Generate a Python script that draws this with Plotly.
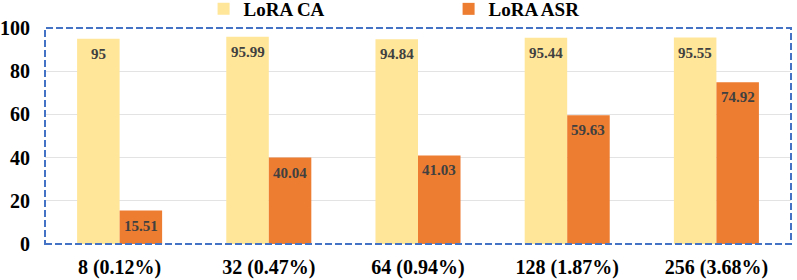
import plotly.graph_objects as go

categories = ["8 (0.12%)", "32 (0.47%)", "64 (0.94%)", "128 (1.87%)", "256 (3.68%)"]
ca_values = [95, 95.99, 94.84, 95.44, 95.55]
asr_values = [15.51, 40.04, 41.03, 59.63, 74.92]
series_names = ["LoRA CA", "LoRA ASR"]
y_ticks = [0, 20, 40, 60, 80, 100]

FONT = "'Liberation Serif', 'Times New Roman', Times, serif"
BAR_W = 0.285
xs = list(range(len(categories)))

fig = go.Figure()
fig.add_trace(go.Bar(x=xs, y=ca_values, name=series_names[0], width=BAR_W, offset=-BAR_W,
                     marker=dict(color="#FFE699", line=dict(width=0))))
fig.add_trace(go.Bar(x=xs, y=asr_values, name=series_names[1], width=BAR_W, offset=0,
                     marker=dict(color="#ED7D31", line=dict(width=0))))

for i in xs:
    for val, sign in ((ca_values[i], -1), (asr_values[i], 1)):
        fig.add_annotation(x=i + sign * BAR_W / 2, y=val, xref="x", yref="y",
                           text="<b>%s</b>" % ("%g" % val), showarrow=False,
                           yanchor="middle", yshift=-15,
                           font=dict(family=FONT, size=15, color="#404040"))

fig.add_shape(type="rect", xref="paper", yref="paper", x0=0, y0=0, x1=1, y1=1,
              line=dict(color="#4472C4", width=2, dash="7px,3px"), layer="above")

fig.update_layout(
    width=797, height=280,
    margin=dict(l=45, r=6, t=28, b=36, autoexpand=False),
    paper_bgcolor="white", plot_bgcolor="white",
    barmode="overlay",
    showlegend=True,
    legend=dict(orientation="h", x=0.541, xanchor="center", y=1.0, yanchor="bottom",
                font=dict(family=FONT, size=19, color="black", weight="bold"),
                entrywidth=200, itemwidth=30, bgcolor="rgba(0,0,0,0)",
                tracegroupgap=0),
    font=dict(family=FONT, size=20, color="black"),
    xaxis=dict(tickmode="array", tickvals=xs, ticktext=["<b>%s</b>" % c for c in categories],
               range=[-0.5, len(categories) - 0.5], showgrid=False, zeroline=False,
               showline=False, ticks="", ticklabelstandoff=9,
               tickfont=dict(family=FONT, size=20, color="black")),
    yaxis=dict(range=[0, 100], tickmode="array", tickvals=y_ticks,
               ticktext=["<b>%d</b>" % t for t in y_ticks],
               showgrid=True, gridcolor="#E3E3E3", gridwidth=1, zeroline=False,
               showline=False, ticks="", ticklabelstandoff=14,
               tickfont=dict(family=FONT, size=20, color="black")),
)

fig.write_html("out.html", config={"displayModeBar": False},
               post_script="document.body.style.margin='0';")
